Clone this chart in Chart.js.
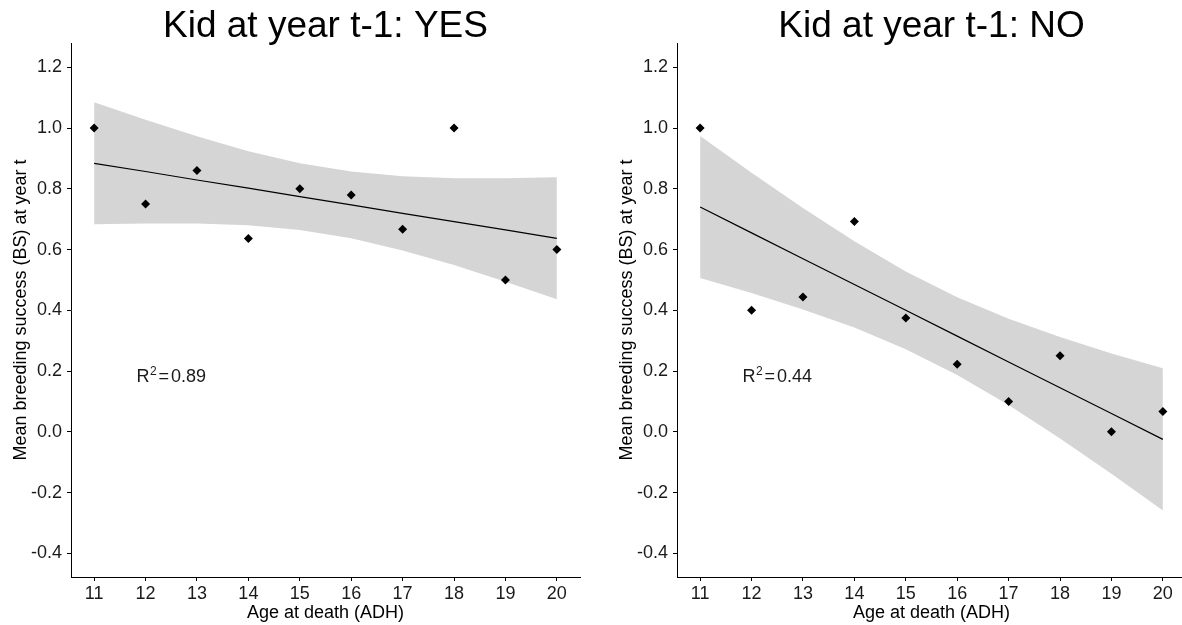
<!DOCTYPE html>
<html>
<head>
<meta charset="utf-8">
<script src="https://cdn.jsdelivr.net/npm/chart.js@4.4.1/dist/chart.umd.min.js"></script>
<style>
  body { margin: 0; width: 1182px; height: 625px; overflow: hidden; background: #fff; position: relative; }
  canvas { position: absolute; top: 0; }
  #chartYes { left: 0; }
  #chartNo { left: 606px; }
</style>
</head>
<body>
<canvas id="chartYes" width="600" height="625"></canvas>
<canvas id="chartNo" width="600" height="625"></canvas>
<script>
// ages at death (x)
const ages = [11, 12, 13, 14, 15, 16, 17, 18, 19, 20]

// kid at year t-1: YES
const yesMeanBS = [1.0, 0.75, 0.86, 0.636, 0.80, 0.78, 0.667, 1.0, 0.5, 0.6]
const yesFit = [0.884, 0.857, 0.829, 0.802, 0.774, 0.747, 0.719, 0.692, 0.665, 0.637]
const yesUpper = [1.085, 1.027, 0.973, 0.924, 0.884, 0.857, 0.841, 0.835, 0.835, 0.838]
const yesLower = [0.683, 0.686, 0.686, 0.680, 0.664, 0.637, 0.597, 0.549, 0.494, 0.436]

// kid at year t-1: NO
const noMeanBS = [1.0, 0.4, 0.444, 0.692, 0.375, 0.222, 0.1, 0.25, 0.0, 0.067]
const noFit = [0.740, 0.655, 0.570, 0.485, 0.400, 0.315, 0.230, 0.145, 0.060, -0.025]
const noUpper = [0.974, 0.853, 0.737, 0.627, 0.528, 0.443, 0.372, 0.312, 0.258, 0.209]
const noLower = [0.506, 0.457, 0.403, 0.343, 0.272, 0.187, 0.088, -0.022, -0.138, -0.259]

const xTicks = [11, 12, 13, 14, 15, 16, 17, 18, 19, 20]
const yTicks = [-0.4, -0.2, 0.0, 0.2, 0.4, 0.6, 0.8, 1.0, 1.2]

const FONT = '"Liberation Sans", Arial, sans-serif'

function toPoints(ys) {
    return ages.map((x, i) => ({ x: x, y: ys[i] }))
}

// panel title, centred over the plot area like ggplot does
const panelTitle = {
    id: 'panelTitle',
    afterDraw(chart, args, opts) {
        const { ctx, chartArea } = chart
        ctx.save()
        ctx.fillStyle = '#000'
        ctx.font = '37px ' + FONT
        ctx.textAlign = 'center'
        ctx.textBaseline = 'alphabetic'
        ctx.fillText(opts.text, (chartArea.left + chartArea.right) / 2, 37)
        ctx.restore()
    }
}

// R² label drawn at data coordinates
const r2Label = {
    id: 'r2Label',
    afterDatasetsDraw(chart, args, opts) {
        const { ctx, scales } = chart
        const px = scales.x.getPixelForValue(opts.x)
        const py = scales.y.getPixelForValue(opts.y)
        ctx.save()
        ctx.fillStyle = '#1a1a1a'
        ctx.textBaseline = 'alphabetic'
        ctx.textAlign = 'left'
        ctx.font = '18px ' + FONT
        const wR = ctx.measureText('R').width
        const wEq = ctx.measureText('=').width
        const wVal = ctx.measureText(opts.value).width
        ctx.font = '12px ' + FONT
        const wSup = ctx.measureText('2').width
        const gap = 2
        const total = wR + 0.5 + wSup + gap + wEq + gap + wVal
        let cx = px - total / 2
        const base = py + 5
        ctx.font = '18px ' + FONT
        ctx.fillText('R', cx, base)
        cx += wR + 0.5
        ctx.font = '12px ' + FONT
        ctx.fillText('2', cx, base - 7.5)
        cx += wSup + gap
        ctx.font = '18px ' + FONT
        ctx.fillText('=', cx, base)
        cx += wEq + gap
        ctx.fillText(opts.value, cx, base)
        ctx.restore()
    }
}

function makeChart(id, title, points, fit, upper, lower, r2) {
    const ctx = document.getElementById(id).getContext('2d')
    return new Chart(ctx, {
        type: 'scatter',
        data: {
            datasets: [
                {
                    data: toPoints(points),
                    pointStyle: 'rectRot',
                    pointRadius: 4.5,
                    pointBackgroundColor: '#000',
                    pointBorderWidth: 0,
                    order: 0
                },
                {
                    data: toPoints(fit),
                    showLine: true,
                    borderColor: '#000',
                    borderWidth: 1.2,
                    pointRadius: 0,
                    order: 1
                },
                {
                    data: toPoints(upper),
                    showLine: true,
                    borderWidth: 0,
                    borderColor: 'rgba(0,0,0,0)',
                    pointRadius: 0,
                    fill: '+1',
                    backgroundColor: '#d5d5d5',
                    order: 2
                },
                {
                    data: toPoints(lower),
                    showLine: true,
                    borderWidth: 0,
                    borderColor: 'rgba(0,0,0,0)',
                    pointRadius: 0,
                    fill: false,
                    order: 3
                }
            ]
        },
        options: {
            responsive: false,
            animation: false,
            events: [],
            layout: { padding: { top: 43, right: 20 } },
            plugins: {
                legend: { display: false },
                tooltip: { enabled: false },
                title: { display: false },
                panelTitle: { text: title },
                r2Label: r2
            },
            scales: {
                x: {
                    type: 'linear',
                    min: 10.55,
                    max: 20.45,
                    afterBuildTicks: s => { s.ticks = xTicks.map(v => ({ value: v })) },
                    afterFit: s => { s.height = 48 },
                    ticks: {
                        color: '#1a1a1a',
                        font: { family: FONT, size: 18 },
                        padding: 2,
                        maxRotation: 0,
                        autoSkip: false
                    },
                    grid: { drawOnChartArea: false, drawTicks: true, tickLength: 4, color: '#000' },
                    border: { color: '#000', width: 1 },
                    title: {
                        display: true,
                        text: 'Age at death (ADH)',
                        color: '#000',
                        font: { family: FONT, size: 18 },
                        padding: { top: 0, bottom: 1 }
                    }
                },
                y: {
                    min: -0.478,
                    max: 1.28,
                    afterBuildTicks: s => { s.ticks = yTicks.map(v => ({ value: v })) },
                    afterFit: s => { s.width = 71 },
                    ticks: {
                        color: '#1a1a1a',
                        font: { family: FONT, size: 18 },
                        padding: 5,
                        callback: v => v.toFixed(1)
                    },
                    grid: { drawOnChartArea: false, drawTicks: true, tickLength: 4, color: '#000' },
                    border: { color: '#000', width: 1 },
                    title: {
                        display: true,
                        text: 'Mean breeding success (BS) at year t',
                        color: '#000',
                        font: { family: FONT, size: 18 },
                        padding: { top: 10, bottom: 0 }
                    }
                }
            }
        },
        plugins: [panelTitle, r2Label]
    })
}

makeChart('chartYes', 'Kid at year t-1: YES', yesMeanBS, yesFit, yesUpper, yesLower,
    { x: 12.5, y: 0.18, value: '0.89' })
makeChart('chartNo', 'Kid at year t-1: NO', noMeanBS, noFit, noUpper, noLower,
    { x: 12.5, y: 0.18, value: '0.44' })
</script>
</body>
</html>
